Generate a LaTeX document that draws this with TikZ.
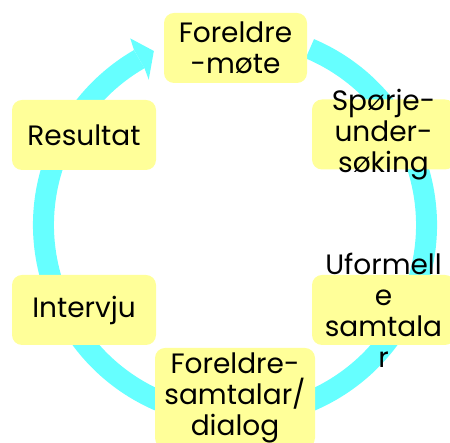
\documentclass[tikz,border=0pt]{standalone}
\usepackage{fontspec}
\setmainfont{Poppins}
\usepackage{tikz}

\definecolor{boxyellow}{RGB}{255,255,153}
\definecolor{ringcyan}{RGB}{102,255,255}

\begin{document}
\begin{tikzpicture}[x=1pt, y=1pt,
		box/.style={fill=boxyellow, rounded corners=10pt, inner sep=0pt},
		lbl/.style={align=center, font=\fontsize{28}{31}\selectfont, inner sep=0pt}]
		\useasboundingbox (0,0) rectangle (450,443);
		
		% Ring with arrow head
		\coordinate (ctr) at (235,218);
		\begin{scope}[shift={(ctr)}]
			\draw[ringcyan, line width=21pt] (67:191.5) arc[start angle=67, end angle=-240, radius=191.5];
			\fill[ringcyan] (119.3:214) -- (115:192) -- (120.7:169) -- (120:181) -- (120:202) -- cycle;
		\end{scope}
		
		% Boxes
		\node[box, minimum width=143pt, minimum height=70pt] (mote) at (235.5,395) {};
		\node[box, minimum width=144pt, minimum height=70pt] (resultat) at (84,308) {};
		\node[box, minimum width=143pt, minimum height=70pt] (sporje) at (383.5,308.5) {};
		\node[box, minimum width=143pt, minimum height=70pt] (uformell) at (383.5,133) {};
		\node[box, minimum width=144pt, minimum height=70pt] (intervju) at (84,133) {};
		\node[box, minimum width=160pt, minimum height=100pt] (samtalar) at (235,45) {};
		
		% Labels
		\node[lbl] (mote_txt) at (mote) {Foreldre\\-møte};
		\node[lbl] (resultat_txt) at (resultat) {Resultat};
		\node[lbl] (sporje_txt) at (sporje) {Spørje-\\under-\\søking};
		\node[lbl] (uformell_txt) at (uformell) {Uformell\\e\\samtala\\r};
		\node[lbl] (intervju_txt) at (intervju) {Intervju};
		\node[lbl] (samtalar_txt) at (samtalar) {Foreldre-\\samtalar/\\dialog};
	\end{tikzpicture}
\end{document}
